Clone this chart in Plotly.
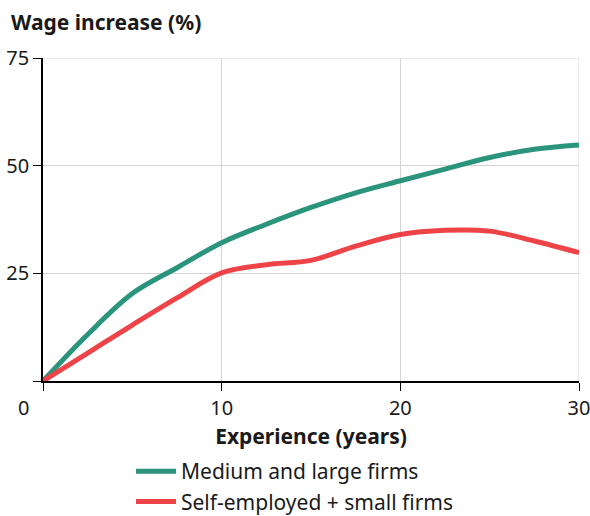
import plotly.graph_objects as go

# experience in years
experience = [0, 2.5, 5, 7.5, 10, 12.5, 15, 17.5, 20, 22.5, 25, 27.5, 30]
# wage increase (%)
medium_large = [0, 10.8, 20.3, 26.3, 32.1, 36.4, 40.3, 43.7, 46.5, 49.2, 51.9, 53.8, 54.8]
self_small = [0, 6.5, 13.0, 19.3, 25.1, 27.0, 28.0, 31.3, 34.0, 35.0, 34.8, 32.5, 29.8]

x_ticks = [0, 10, 20, 30]
x_tick_text = ["", "10", "20", "30"]
y_ticks = [0, 25, 50, 75]
y_tick_text = ["", "25", "50", "75"]

FONT = "Noto Sans"
TXT = '#1a1a1a'
GRID = '#d4d4d4'

fig = go.Figure()
fig.add_trace(go.Scatter(x=experience, y=medium_large,
                         mode='lines',
                         name='Medium and large firms',
                         line=dict(color='#2a947c', width=5, shape='spline', smoothing=1),
                         cliponaxis=False,
                         ))
fig.add_trace(go.Scatter(x=experience, y=self_small,
                         mode='lines',
                         name='Self-employed + small firms',
                         line=dict(color='#ee4448', width=5, shape='spline', smoothing=1),
                         cliponaxis=False,
                         ))

fig.update_xaxes(range=[0, 30], tickvals=x_ticks, ticktext=x_tick_text,
                 showgrid=True, gridcolor=GRID, gridwidth=1,
                 showline=True, linecolor='black', linewidth=1.5,
                 ticks='outside', ticklen=8, tickcolor='black',
                 tickfont=dict(size=20, color=TXT), ticklabeloverflow='allow',
                 zeroline=False, automargin=False,
                 title=dict(text='<b>Experience (years)</b>', font=dict(size=21, color=TXT), standoff=10))
fig.update_yaxes(range=[0, 75], tickvals=y_ticks, ticktext=y_tick_text,
                 showgrid=True, gridcolor=GRID, gridwidth=1,
                 showline=True, linecolor='black', linewidth=1.5,
                 ticks='outside', ticklen=8, tickcolor='black',
                 tickfont=dict(size=20, color=TXT), ticklabeloverflow='allow',
                 zeroline=False, automargin=False)

# grid lines at the far edges (plotly skips them)
fig.add_shape(type='line', xref='x', yref='paper', x0=x_ticks[-1], x1=x_ticks[-1], y0=0, y1=1,
              line=dict(color=GRID, width=1), layer='below')
fig.add_shape(type='line', xref='paper', yref='y', x0=0, x1=1, y0=y_ticks[-1], y1=y_ticks[-1],
              line=dict(color=GRID, width=1), layer='below')

# shared origin label
fig.add_annotation(x=0, y=0, xref='x', yref='y', text='0', showarrow=False,
                   xshift=-20, yshift=-26, font=dict(size=20, color=TXT, family=FONT))

# chart title, top left
fig.add_annotation(x=(9 - 43) / 536, y=1 + (58 - 22) / 323, xref='paper', yref='paper',
                   text='<b>Wage increase (%)</b>',
                   showarrow=False, xanchor='left', yanchor='middle',
                   font=dict(size=21, color=TXT, family=FONT))

fig.update_layout(
    width=590, height=516,
    template='plotly_white',
    font=dict(family=FONT, color=TXT),
    margin=dict(l=43, r=11, t=58, b=135, autoexpand=False),
    legend=dict(orientation='v', x=0.5, xanchor='center', xref='container',
                y=1 - 451 / 516, yanchor='top', yref='container',
                font=dict(size=21, color=TXT), itemwidth=40, tracegroupgap=0),
    plot_bgcolor='white', paper_bgcolor='white',
)

fig.write_html("out.html", config={'displayModeBar': False},
               post_script="document.body.style.margin='0';document.body.style.overflow='hidden';")
